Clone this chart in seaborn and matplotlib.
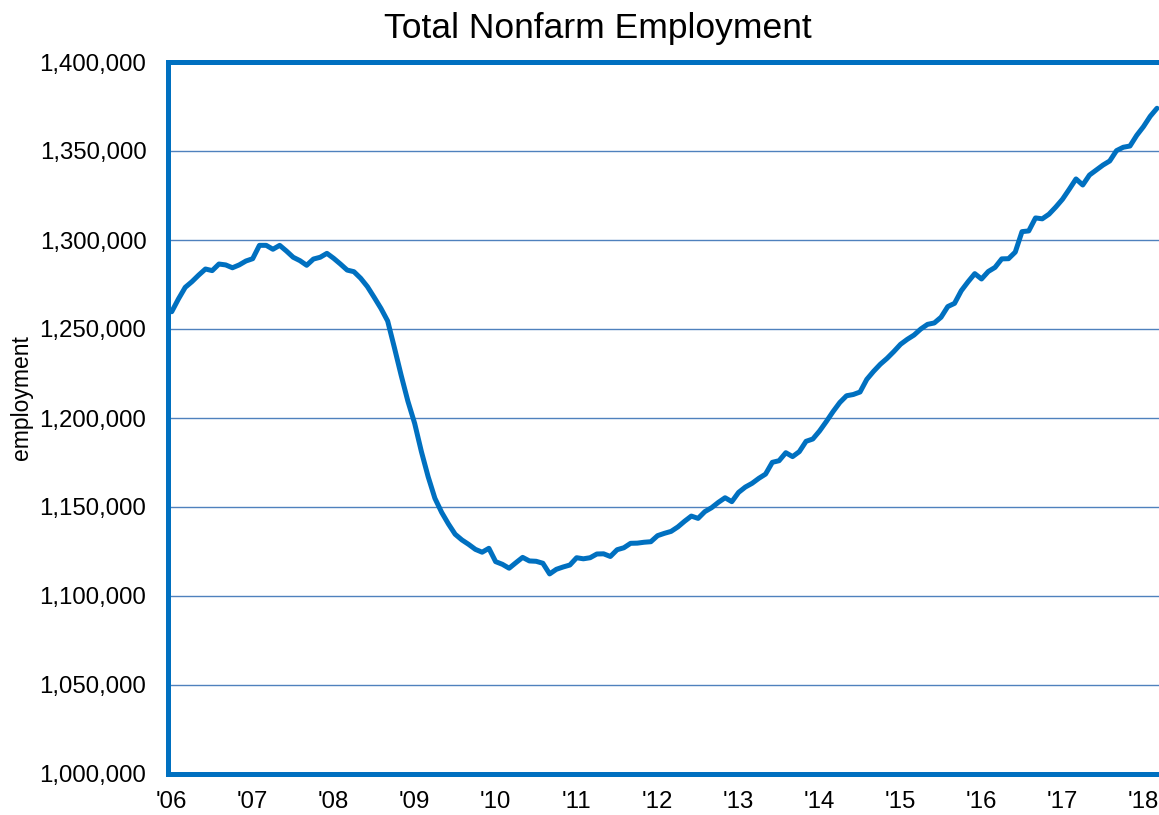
import numpy as np
import pandas as pd
import matplotlib
matplotlib.use("Agg")
import matplotlib.pyplot as plt
import seaborn as sns
from matplotlib.ticker import FuncFormatter

# monthly values, Jan 2006 .. Mar 2018
employment = [
    1259700, 1266900, 1273400, 1276600, 1280300, 1283700, 1282800, 1286500, 1286000, 1284400, 1286000, 1288200,
    1289500, 1297000, 1297000, 1294800, 1297000, 1293800, 1290300, 1288400, 1285800, 1289300, 1290300, 1292500,
    1289700, 1286500, 1283100, 1282200, 1278500, 1273800, 1267800, 1261600, 1254500, 1239500, 1224000, 1209400,
    1197000, 1181100, 1167000, 1154900, 1147000, 1140500, 1134700, 1131500, 1129000, 1126200, 1124600, 1126800,
    1119300, 1117800, 1115600, 1118700, 1121700, 1119700, 1119500, 1118400, 1112400, 1115000, 1116300, 1117400,
    1121500, 1120900, 1121500, 1123600, 1123700, 1122200, 1126000, 1127100, 1129600, 1129700, 1130200, 1130500,
    1133900, 1135200, 1136300, 1138800, 1142000, 1144900, 1143600, 1147400, 1149600, 1152600, 1155200, 1153000,
    1158200, 1161200, 1163300, 1166100, 1168500, 1175100, 1176000, 1180500, 1178300, 1181100, 1186900, 1188200,
    1192700, 1198000, 1203600, 1208700, 1212500, 1213200, 1214600, 1221700, 1226200, 1230200, 1233500, 1237300,
    1241400, 1244200, 1246600, 1250000, 1252600, 1253400, 1256600, 1262600, 1264400, 1271500, 1276500, 1281100,
    1278100, 1282300, 1284600, 1289400, 1289500, 1293200, 1304700, 1305100, 1312400, 1311900, 1314500, 1318500,
    1322900, 1328500, 1334300, 1330900, 1336500, 1339300, 1342100, 1344400, 1350200, 1352100, 1352800, 1358800,
    1363700, 1369500, 1374000,
]
dates = pd.date_range("2006-01-01", periods=len(employment), freq="MS")
year_labels = ["'06", "'07", "'08", "'09", "'10", "'11", "'12", "'13", "'14", "'15", "'16", "'17", "'18"]
y_ticks = list(range(1000000, 1400001, 50000))

df = pd.DataFrame({"date": dates, "employment": employment})
df["month"] = np.arange(len(df))

sns.set_style("white")
plt.rcParams["font.family"] = ["Liberation Sans", "DejaVu Sans"]
plt.rcParams["text.color"] = "black"

blue = "#0070C0"
grid_blue = "#4F81BD"

fig = plt.figure(figsize=(11.59, 8.15), dpi=100)
ax = fig.add_axes([168 / 1159, 41 / 815, (1159 - 168) / 1159, (774 - 62) / 815])

sns.lineplot(data=df, x="month", y="employment", color=blue, linewidth=3.6, ax=ax, zorder=3)

ax.set_xlim(-0.55, 146.3)
ax.set_ylim(y_ticks[0], y_ticks[-1])
ax.set_yticks(y_ticks)
ax.yaxis.set_major_formatter(FuncFormatter(lambda v, p: f"{int(v):,}"))
ax.set_xticks(np.arange(0, 12 * len(year_labels), 12))
ax.set_xticklabels(year_labels)

ax.grid(axis="y", color=grid_blue, linewidth=1.0)
ax.grid(axis="x", visible=False)
ax.set_axisbelow(True)

for side in ["left", "top", "bottom"]:
    ax.spines[side].set_color(blue)
    ax.spines[side].set_linewidth(3.6)
    ax.spines[side].set_zorder(4)
ax.spines["right"].set_visible(False)

ax.tick_params(axis="y", length=4.5, width=1, color="#7FA7D6", pad=11, labelsize=17.3, labelcolor="black")
ax.tick_params(axis="x", length=0, pad=12, labelsize=17.3, labelcolor="black")

ax.set_xlabel("")
ax.set_ylabel("")
fig.text(22 / 1159, 1 - 398 / 815, "employment", rotation=90, ha="center", va="center",
         fontsize=16.5, color="black")
fig.text(598 / 1159, 1 - 38 / 815, "Total Nonfarm Employment", ha="center", va="baseline",
         fontsize=25.5, color="black")

fig.savefig("out.png", dpi=100)
